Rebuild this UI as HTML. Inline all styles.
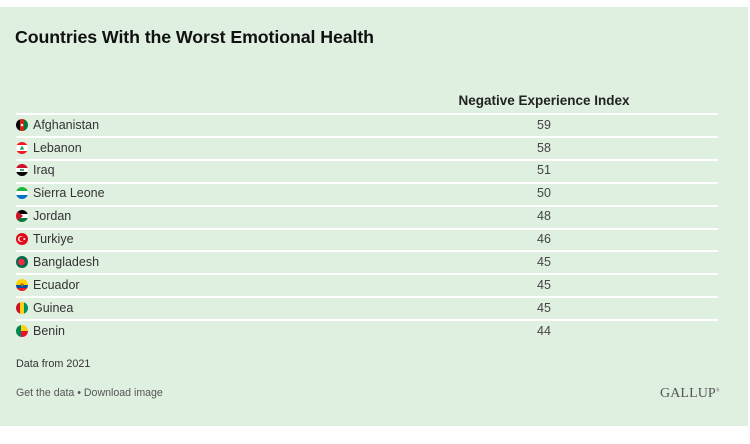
<!DOCTYPE html>
<html><head><meta charset="utf-8">
<style>
html,body{margin:0;padding:0;background:#fff;}
body{width:750px;height:444px;position:relative;overflow:hidden;font-family:"Liberation Sans",Arial,sans-serif;}
.bg{position:absolute;left:0;top:7px;width:748px;height:419px;background:#dff0e1;}
.title{position:absolute;left:15px;top:27px;font-size:17.8px;font-weight:bold;color:#111;white-space:nowrap;letter-spacing:-0.1px;}
.hdr{position:absolute;left:394px;width:300px;text-align:center;top:93px;font-size:13.5px;font-weight:bold;color:#222;white-space:nowrap;}
.line{position:absolute;left:16px;width:702px;height:2px;background:#fff;}
.row{position:absolute;left:0;width:750px;height:20px;}
.name{position:absolute;left:33px;top:0;font-size:12.5px;color:#333;line-height:20px;}
.val{position:absolute;left:494px;width:100px;text-align:center;top:0;font-size:12.5px;color:#444;line-height:20px;}
.flag{position:absolute;left:16px;top:4px;width:12px;height:12px;}
.note{position:absolute;left:16px;top:358px;font-size:10.8px;color:#333;}
.links{position:absolute;left:16px;top:387px;font-size:10.6px;color:#555;}
.gallup{position:absolute;left:660px;top:386px;font-family:"Liberation Serif",serif;font-size:14px;color:#555;letter-spacing:0.1px;}
</style></head><body>
<div class="bg"></div>
<div class="title">Countries With the Worst Emotional Health</div>
<div class="hdr">Negative Experience Index</div>

<div class="line" style="top:113px"></div>
<div class="line" style="top:136px"></div>
<div class="line" style="top:159px"></div>
<div class="line" style="top:182px"></div>
<div class="line" style="top:205px"></div>
<div class="line" style="top:228px"></div>
<div class="line" style="top:250px"></div>
<div class="line" style="top:273px"></div>
<div class="line" style="top:296px"></div>
<div class="line" style="top:319px"></div>

<svg width="0" height="0" style="position:absolute"><defs><clipPath id="c"><circle cx="6" cy="6" r="6"/></clipPath></defs></svg>

<div class="row" style="top:115px">
<svg class="flag" viewBox="0 0 12 12"><g clip-path="url(#c)"><rect x="0" y="0" width="4" height="12" fill="#000"/><rect x="4" y="0" width="4" height="12" fill="#d32011"/><rect x="8" y="0" width="4" height="12" fill="#007a36"/><circle cx="6" cy="6" r="1.3" fill="#fff"/></g></svg>
<div class="name">Afghanistan</div><div class="val">59</div></div>

<div class="row" style="top:138px">
<svg class="flag" viewBox="0 0 12 12"><g clip-path="url(#c)"><rect width="12" height="12" fill="#ed1c24"/><rect y="3" width="12" height="6" fill="#fff"/><path d="M6 3.6 L8.2 7.6 H3.8 Z" fill="#00a651"/></g></svg>
<div class="name">Lebanon</div><div class="val">58</div></div>

<div class="row" style="top:160px">
<svg class="flag" viewBox="0 0 12 12"><g clip-path="url(#c)"><rect width="12" height="4" fill="#ce1126"/><rect y="4" width="12" height="4" fill="#fff"/><rect y="8" width="12" height="4" fill="#000"/><rect x="4" y="5.3" width="4" height="1.4" fill="#007a3d"/></g></svg>
<div class="name">Iraq</div><div class="val">51</div></div>

<div class="row" style="top:183px">
<svg class="flag" viewBox="0 0 12 12"><g clip-path="url(#c)"><rect width="12" height="4" fill="#1eb53a"/><rect y="4" width="12" height="4" fill="#fff"/><rect y="8" width="12" height="4" fill="#0072c6"/></g></svg>
<div class="name">Sierra Leone</div><div class="val">50</div></div>

<div class="row" style="top:206px">
<svg class="flag" viewBox="0 0 12 12"><g clip-path="url(#c)"><rect width="12" height="4" fill="#000"/><rect y="4" width="12" height="4" fill="#fff"/><rect y="8" width="12" height="4" fill="#007a3d"/><path d="M0 0 L7 6 L0 12 Z" fill="#ce1126"/></g></svg>
<div class="name">Jordan</div><div class="val">48</div></div>

<div class="row" style="top:229px">
<svg class="flag" viewBox="0 0 12 12"><g clip-path="url(#c)"><rect width="12" height="12" fill="#e30a17"/><circle cx="5" cy="6" r="3" fill="#fff"/><circle cx="5.8" cy="6" r="2.4" fill="#e30a17"/><circle cx="8.3" cy="6" r="1" fill="#fff"/></g></svg>
<div class="name">Turkiye</div><div class="val">46</div></div>

<div class="row" style="top:252px">
<svg class="flag" viewBox="0 0 12 12"><g clip-path="url(#c)"><rect width="12" height="12" fill="#006a4e"/><circle cx="5.5" cy="6" r="3.3" fill="#f42a41"/></g></svg>
<div class="name">Bangladesh</div><div class="val">45</div></div>

<div class="row" style="top:275px">
<svg class="flag" viewBox="0 0 12 12"><g clip-path="url(#c)"><rect width="12" height="6" fill="#ffd100"/><rect y="6" width="12" height="3" fill="#034ea2"/><rect y="9" width="12" height="3" fill="#ed1c24"/><circle cx="6" cy="6" r="1.6" fill="#8a6d3b"/></g></svg>
<div class="name">Ecuador</div><div class="val">45</div></div>

<div class="row" style="top:298px">
<svg class="flag" viewBox="0 0 12 12"><g clip-path="url(#c)"><rect width="4" height="12" fill="#ce1126"/><rect x="4" width="4" height="12" fill="#fcd116"/><rect x="8" width="4" height="12" fill="#009460"/></g></svg>
<div class="name">Guinea</div><div class="val">45</div></div>

<div class="row" style="top:321px">
<svg class="flag" viewBox="0 0 12 12"><g clip-path="url(#c)"><rect width="5" height="12" fill="#008751"/><rect x="5" width="7" height="6" fill="#fcd116"/><rect x="5" y="6" width="7" height="6" fill="#e8112d"/></g></svg>
<div class="name">Benin</div><div class="val">44</div></div>

<div class="note">Data from 2021</div>
<div class="links">Get the data • Download image</div>
<div class="gallup">GALLUP<sup style="font-size:5px">®</sup></div>
</body></html>
